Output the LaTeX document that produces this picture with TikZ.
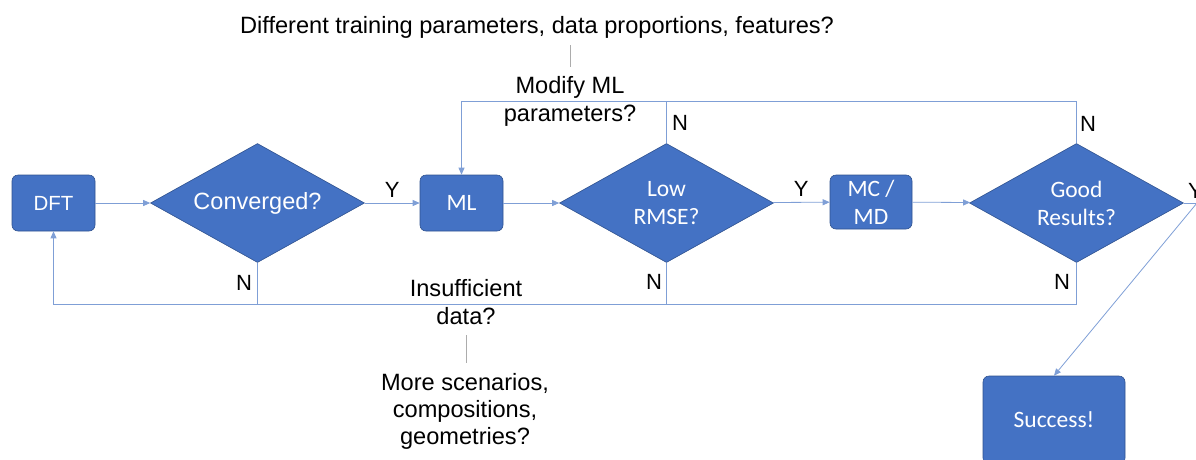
\documentclass[tikz,border=0pt]{standalone}
\usepackage{fontspec}
\setmainfont{Liberation Sans}
\newfontfamily\calib{Carlito}
\usetikzlibrary{shapes.geometric,arrows.meta}
\definecolor{boxblue}{HTML}{4472C4}
\definecolor{boxedge}{HTML}{2F528F}
\definecolor{linkblue}{HTML}{7F9FD6}
\begin{document}
\begin{tikzpicture}[x=1pt,y=-1pt,
  proc/.style={draw=boxedge, line width=0.6pt, fill=boxblue, rounded corners=6pt,
    text=white, align=center, inner sep=0pt},
  decide/.style={diamond, draw=boxedge, line width=0.6pt, fill=boxblue, text=white,
    align=center, inner sep=0pt, aspect=1.8, minimum width=214pt, minimum height=119pt},
  link/.style={draw=linkblue, line width=0.8pt},
  arr/.style={link, -{Triangle[length=7pt,width=6pt]}},
  lbl/.style={font=\fontsize{22}{26}\selectfont, text=black, inner sep=0pt},
  note/.style={font=\fontsize{23.6}{28}\selectfont, align=center, inner sep=0pt},
  tick/.style={draw=gray!65, line width=0.8pt},
  calfont/.style={font=\calib\fontsize{23.5}{28}\selectfont}]
\useasboundingbox (0,0) rectangle (1196,459);
\begin{scope}
\clip (0,0) rectangle (1196,459);

% process boxes and decisions
\node[proc, minimum width=83pt, minimum height=56pt, font=\fontsize{20.5}{24}\selectfont] (dft) at (53.5,203) {DFT};
\node[decide, font=\fontsize{23.5}{28}\selectfont] (conv) at (257.5,203) {Converged?};
\node[proc, calfont, minimum width=83pt, minimum height=56pt] (ml) at (461.5,203) {ML};
\node[decide, calfont] (rmse) at (666.5,203) {Low\\RMSE?};
\node[proc, calfont, minimum width=82pt, minimum height=54pt] (mc) at (871,202) {MC /\\MD};
\node[decide, calfont] (good) at (1076.5,203) {Good\\Results?};
\node[proc, calfont, minimum width=142pt, minimum height=88pt] (succ) at (1054,420) {Success!};

% helper points for the loops
\coordinate (tl) at (0,101);
\coordinate (bl) at (0,304);
\coordinate (edge) at (1197,203);

% main flow
\draw[arr] (dft) -- (conv);
\draw[arr] (conv) -- node[lbl, above=5pt] {Y} (ml);
\draw[arr] (ml) -- (rmse);
\draw[arr] (rmse) -- node[lbl, above=5pt] {Y} (mc);
\draw[arr] (mc) -- (good);
\draw[link] (good.east) -- (edge);
\node[lbl, anchor=south west] (yend) at (1188,199) {Y};
\draw[arr] (edge) -- (succ.north);

% upper loop back to ML
\draw[arr] (good.north) -- (good.north |- tl) -| (ml.north);
\draw[link] (rmse.north) -- (rmse.north |- tl);
\node[lbl] (nr1) at (680,123) {N};
\node[lbl] (ng1) at (1088,124) {N};

% lower loop back to DFT
\draw[arr] (good.south) -- (good.south |- bl) -| (dft.south);
\draw[link] (conv.south) -- (conv.south |- bl);
\draw[link] (rmse.south) -- (rmse.south |- bl);
\node[lbl] (nc) at (244,283) {N};
\node[lbl] (nr2) at (654,282) {N};
\node[lbl] (ng2) at (1062,282) {N};

% annotations
\node[note] (diff) at (537,27) {Different training parameters, data proportions, features?};
\node[note] (modify) at (570,101) {Modify ML\\parameters?};
\draw[tick] (570,45) -- (570,67);
\node[note] (insuff) at (466,302) {Insufficient\\data?};
\draw[tick] (466,335) -- (466,363);
\node[note, font=\fontsize{23.6}{27}\selectfont] (more) at (465,411) {More scenarios,\\compositions,\\geometries?};
\end{scope}
\end{tikzpicture}
\end{document}
